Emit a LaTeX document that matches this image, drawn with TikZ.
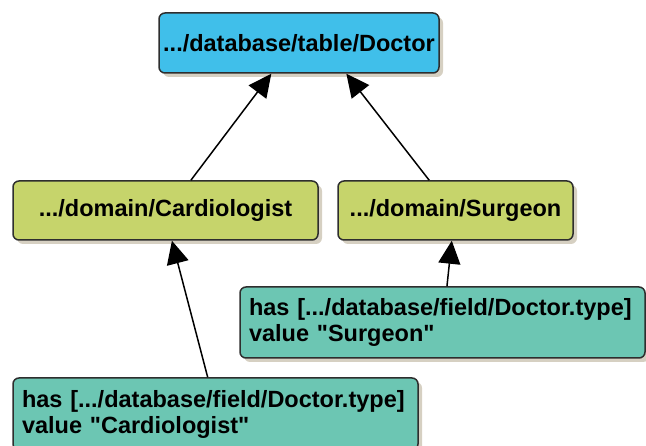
\documentclass[tikz,border=0pt]{standalone}
\usepackage{fontspec}
\setmainfont{Liberation Sans}
\usetikzlibrary{arrows.meta,shadows}

\definecolor{tblblue}{HTML}{40BFEA}
\definecolor{domgreen}{HTML}{C6D46B}
\definecolor{hasteal}{HTML}{6CC6B3}
\definecolor{shadowgray}{HTML}{D6D0C2}
\definecolor{edgegray}{HTML}{2E2E2E}

\tikzset{
    box/.style={draw=edgegray, line width=1.5pt, rounded corners=6pt,
        font=\fontsize{23.5}{26}\selectfont\bfseries, inner xsep=2pt,
        drop shadow={shadow xshift=4pt, shadow yshift=-4pt, fill=shadowgray, opacity=1}},
    hasbox/.style={box, fill=hasteal, minimum width=405pt, align=left, text width=387pt, inner xsep=9pt},
    arr/.style={line width=1.5pt, -{Triangle[length=23pt,width=22pt]}}
}

\begin{document}
\begin{tikzpicture}[x=1pt,y=-1pt]
    \useasboundingbox (0,0) rectangle (646,446);

    % boxes
    \node[box, fill=tblblue, minimum width=280pt, minimum height=60pt] (doctor) at (299,43) {.../database/table/Doctor};
    \node[box, fill=domgreen, minimum width=305pt, minimum height=59pt] (cardio) at (165.5,210.5) {.../domain/Cardiologist};
    \node[box, fill=domgreen, minimum width=235pt, minimum height=59pt] (surgeon) at (455.5,210.5) {.../domain/Surgeon};
    \node[hasbox, minimum height=71pt] (has_surgeon) at (442.5,322.5)
        {has [.../database/field/Doctor.type]\\value \textquotedbl Surgeon\textquotedbl};
    \node[hasbox, minimum height=72pt] (has_cardio) at (215.5,414)
        {has [.../database/field/Doctor.type]\\value \textquotedbl Cardiologist\textquotedbl};

    % arrows
    \draw[arr] (cardio.50) -- (doctor.228);
    \draw[arr] (surgeon.131) -- (doctor.327);
    \draw[arr] (has_surgeon.83) -- (surgeon.263);
    \draw[arr] (has_cardio.102) -- (cardio.282);
\end{tikzpicture}
\end{document}
